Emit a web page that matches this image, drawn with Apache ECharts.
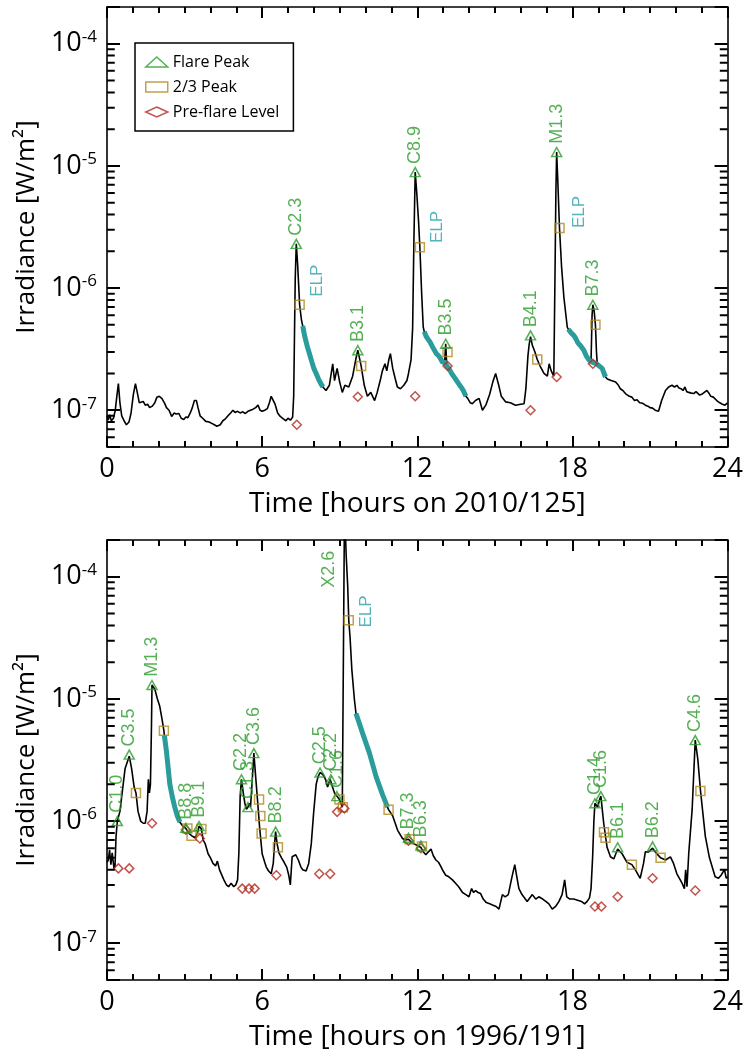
<!DOCTYPE html>
<html><head><meta charset="utf-8">
<script src="https://cdn.jsdelivr.net/npm/echarts@6/dist/echarts.min.js"></script>
<style>html,body{margin:0;padding:0;background:#fff}#c{width:746px;height:1061px}</style>
</head><body><div id="c"></div>
<script>
// ---------------- DATA ----------------
const xTicks = [0, 6, 12, 18, 24];
const yMinorTicks = [6e-8,7e-8,8e-8,9e-8, 2e-7,3e-7,4e-7,5e-7,6e-7,7e-7,8e-7,9e-7,
  2e-6,3e-6,4e-6,5e-6,6e-6,7e-6,8e-6,9e-6, 2e-5,3e-5,4e-5,5e-5,6e-5,7e-5,8e-5,9e-5];

// Top panel: 2010/125
const topCurve = [
 [0.00,9.0e-8],[0.05,8.3e-8],[0.10,9.2e-8],[0.17,8.2e-8],[0.25,8.6e-8],[0.32,1.0e-7],[0.38,1.3e-7],[0.44,1.65e-7],
 [0.50,1.15e-7],[0.57,9.0e-8],[0.66,8.2e-8],[0.75,7.6e-8],[0.85,8.0e-8],[0.93,9.5e-8],[1.02,1.35e-7],[1.10,1.65e-7],
 [1.17,1.4e-7],[1.25,1.15e-7],[1.32,1.12e-7],[1.40,1.18e-7],[1.48,1.1e-7],[1.57,1.12e-7],[1.65,1.05e-7],[1.75,1.08e-7],
 [1.85,1.15e-7],[1.93,1.28e-7],[2.02,1.3e-7],[2.12,1.25e-7],[2.22,1.15e-7],[2.30,1.05e-7],[2.40,1.0e-7],[2.50,8.9e-8],
 [2.60,9.5e-8],[2.68,9.3e-8],[2.78,9.4e-8],[2.87,8.6e-8],[2.97,8.4e-8],[3.05,8.8e-8],[3.13,8.7e-8],[3.22,9.5e-8],
 [3.30,1.05e-7],[3.38,1.2e-7],[3.46,1.2e-7],[3.52,1.05e-7],[3.60,9.0e-8],[3.70,8.6e-8],[3.82,8.1e-8],[3.95,8.0e-8],
 [4.05,7.8e-8],[4.15,7.6e-8],[4.25,7.4e-8],[4.30,7.2e-8],[4.38,7.6e-8],[4.48,8.2e-8],[4.58,8.5e-8],[4.68,9.0e-8],
 [4.78,9.5e-8],[4.87,1.0e-7],[4.95,9.6e-8],[5.05,9.8e-8],[5.15,9.5e-8],[5.25,9.7e-8],[5.35,9.4e-8],[5.45,9.8e-8],
 [5.55,1.0e-7],[5.65,1.02e-7],[5.75,1.05e-7],[5.84,1.1e-7],[5.92,1.0e-7],[6.00,9.8e-8],[6.10,1.0e-7],[6.20,1.03e-7],
 [6.28,1.15e-7],[6.35,1.3e-7],[6.42,1.3e-7],[6.50,1.12e-7],[6.60,9.5e-8],[6.70,8.9e-8],[6.82,8.5e-8],[6.92,8.2e-8],
 [7.00,8.6e-8],[7.10,8.3e-8],[7.18,8.8e-8],[7.22,1.3e-7],[7.25,4.0e-7],[7.28,1.2e-6],[7.32,2.3e-6],[7.37,1.6e-6],
 [7.45,7.3e-7],[7.52,5.5e-7],
 [7.57,4.9e-7],[7.65,4.0e-7],[7.75,3.3e-7],[7.83,2.9e-7],[7.92,2.5e-7],[8.00,2.2e-7],[8.09,2.0e-7],[8.18,1.8e-7],
 [8.27,1.65e-7],[8.35,1.55e-7],[8.47,1.45e-7],[8.60,1.6e-7],[8.73,2.4e-7],[8.80,1.75e-7],[8.90,2.2e-7],[9.00,1.7e-7],
 [9.10,1.4e-7],[9.20,1.6e-7],[9.35,1.55e-7],[9.50,1.9e-7],[9.62,2.6e-7],[9.70,3.1e-7],[9.83,2.3e-7],[9.95,1.6e-7],
 [10.07,1.3e-7],[10.20,1.4e-7],[10.35,1.2e-7],[10.45,1.4e-7],[10.58,1.8e-7],[10.65,2.1e-7],[10.75,2.4e-7],[10.82,2.1e-7],
 [10.90,2.6e-7],[10.96,2.9e-7],[11.05,2.2e-7],[11.15,1.8e-7],[11.23,1.55e-7],[11.35,1.5e-7],[11.48,1.6e-7],[11.60,1.75e-7],
 [11.66,2.0e-7],[11.76,2.6e-7],[11.82,4.7e-7],[11.87,2.5e-6],[11.92,8.9e-6],[11.98,6.0e-6],[12.05,3.5e-6],[12.10,2.16e-6],
 [12.17,9.0e-7],[12.23,4.8e-7],[12.27,4.4e-7],[12.35,4.0e-7],[12.42,3.8e-7],[12.50,3.6e-7],[12.59,3.3e-7],[12.66,3.2e-7],
 [12.74,2.9e-7],[12.82,2.8e-7],[12.90,2.65e-7],[12.98,2.45e-7],[13.06,2.5e-7],[13.10,3.5e-7],[13.14,2.3e-7],[13.22,2.2e-7],
 [13.30,2.05e-7],[13.36,1.95e-7],[13.44,1.85e-7],[13.52,1.75e-7],[13.60,1.65e-7],[13.69,1.55e-7],[13.78,1.45e-7],[13.88,1.3e-7],
 [13.95,1.25e-7],[14.05,1.15e-7],[14.13,1.13e-7],[14.25,1.2e-7],[14.39,1.25e-7],[14.52,1.0e-7],[14.65,1.1e-7],[14.80,1.35e-7],
 [14.92,1.7e-7],[15.03,2.0e-7],[15.15,1.6e-7],[15.25,1.3e-7],[15.42,1.17e-7],[15.60,1.15e-7],[15.80,1.1e-7],[16.00,1.12e-7],
 [16.13,1.13e-7],[16.20,1.5e-7],[16.28,2.8e-7],[16.33,3.5e-7],[16.38,4.0e-7],[16.45,3.4e-7],[16.55,3.0e-7],[16.64,2.6e-7],
 [16.75,2.3e-7],[16.90,2.0e-7],[17.03,1.9e-7],[17.10,2.4e-7],[17.18,2.1e-7],[17.28,1.9e-7],[17.33,1.5e-6],[17.36,6.0e-6],
 [17.39,1.3e-5],[17.43,8.0e-6],[17.50,3.1e-6],[17.58,1.5e-6],[17.67,8.4e-7],[17.80,4.8e-7],[17.84,4.6e-7],[17.95,4.3e-7],
 [18.05,4.1e-7],[18.12,3.9e-7],[18.20,3.6e-7],[18.30,3.4e-7],[18.44,3.1e-7],[18.53,2.8e-7],[18.63,2.6e-7],[18.72,2.5e-7],
 [18.76,6.0e-7],[18.79,7.3e-7],[18.84,6.5e-7],[18.89,5.0e-7],[18.93,3.0e-7],[18.96,2.4e-7],[19.00,2.35e-7],[19.15,2.2e-7],
 [19.28,1.87e-7],[19.35,1.8e-7],[19.50,1.75e-7],[19.67,1.7e-7],[19.78,1.6e-7],[19.85,1.5e-7],[19.95,1.45e-7],[20.05,1.37e-7],
 [20.20,1.3e-7],[20.30,1.28e-7],[20.40,1.2e-7],[20.50,1.22e-7],[20.60,1.15e-7],[20.72,1.14e-7],[20.82,1.1e-7],[20.92,1.08e-7],
 [21.00,1.05e-7],[21.10,1.04e-7],[21.20,1.0e-7],[21.33,9.8e-8],[21.45,1.2e-7],[21.60,1.45e-7],[21.72,1.55e-7],[21.85,1.6e-7],
 [21.95,1.55e-7],[22.04,1.6e-7],[22.12,1.52e-7],[22.20,1.5e-7],[22.28,1.45e-7],[22.35,1.55e-7],[22.42,1.42e-7],[22.50,1.4e-7],
 [22.60,1.38e-7],[22.69,1.37e-7],[22.78,1.42e-7],[22.85,1.4e-7],[22.92,1.33e-7],[23.00,1.35e-7],[23.10,1.4e-7],[23.20,1.45e-7],
 [23.28,1.38e-7],[23.35,1.3e-7],[23.45,1.28e-7],[23.52,1.25e-7],[23.62,1.18e-7],[23.70,1.15e-7],[23.80,1.12e-7],[23.90,1.1e-7],
 [24.00,1.15e-7]
];
const topElp1 = [[7.57,4.9e-7],[7.65,4.0e-7],[7.75,3.3e-7],[7.83,2.9e-7],[7.92,2.5e-7],[8.00,2.2e-7],[8.09,2.0e-7],[8.18,1.8e-7],[8.27,1.65e-7],[8.35,1.55e-7]];
const topElp2 = [[12.27,4.4e-7],[12.35,4.0e-7],[12.42,3.8e-7],[12.50,3.6e-7],[12.59,3.3e-7],[12.66,3.2e-7],[12.74,2.9e-7],[12.82,2.8e-7],[12.90,2.65e-7],[12.98,2.45e-7],[13.06,2.5e-7],[13.14,2.3e-7],[13.22,2.2e-7],[13.30,2.05e-7],[13.36,1.95e-7],[13.44,1.85e-7],[13.52,1.75e-7],[13.60,1.65e-7],[13.69,1.55e-7],[13.78,1.45e-7],[13.88,1.3e-7]];
const topElp3 = [[17.84,4.6e-7],[17.95,4.3e-7],[18.05,4.1e-7],[18.12,3.9e-7],[18.20,3.6e-7],[18.30,3.4e-7],[18.44,3.1e-7],[18.53,2.8e-7],[18.63,2.6e-7],[18.72,2.5e-7],[18.82,2.45e-7],[18.93,2.4e-7],[19.00,2.35e-7],[19.15,2.2e-7],[19.28,1.87e-7]];
const topPeaks = [[7.32,2.3e-6],[9.70,3.1e-7],[11.92,8.9e-6],[13.10,3.5e-7],[16.38,4.1e-7],[17.39,1.3e-5],[18.79,7.3e-7]];
const topPeakNames = ['C2.3','B3.1','C8.9','B3.5','B4.1','M1.3','B7.3'];
const topTwoThirds = [[7.45,7.3e-7],[9.83,2.3e-7],[12.10,2.16e-6],[13.17,3.0e-7],[16.64,2.6e-7],[17.50,3.1e-6],[18.89,5.0e-7]];
const topPreflare = [[7.34,7.6e-8],[9.70,1.29e-7],[11.92,1.3e-7],[13.17,2.3e-7],[16.38,1.0e-7],[17.39,1.87e-7],[18.79,2.4e-7]];
const topElpNotes = [[8.14,1.15e-6],[12.78,3.16e-6],[18.25,4.2e-6]];

// Bottom panel: 1996/191
const botCurve = [
 [0.00,4.6e-7],[0.05,4.8e-7],[0.10,5.8e-7],[0.15,4.4e-7],[0.20,5.5e-7],[0.27,4.1e-7],[0.31,4.3e-7],[0.35,7.5e-7],
 [0.40,1.0e-6],[0.50,1.2e-6],[0.60,1.8e-6],[0.70,2.7e-6],[0.86,3.4e-6],[0.95,2.7e-6],[1.05,1.9e-6],[1.12,1.7e-6],
 [1.20,1.2e-6],[1.30,1.0e-6],[1.40,9.6e-7],[1.48,9.6e-7],[1.55,1.2e-6],[1.60,2.2e-6],[1.64,1.7e-6],[1.68,2.0e-6],
 [1.72,6.0e-6],[1.74,1.3e-5],[1.85,1.2e-5],[1.95,1.0e-5],[2.04,8.7e-6],[2.12,7.0e-6],[2.20,5.5e-6],[2.22,5.0e-6],
 [2.30,3.7e-6],[2.43,2.0e-6],[2.52,1.6e-6],[2.62,1.3e-6],[2.72,1.1e-6],[2.82,9.8e-7],[2.95,9.0e-7],[3.05,8.7e-7],
 [3.15,8.0e-7],[3.27,7.6e-7],[3.40,7.3e-7],[3.50,8.0e-7],[3.56,9.1e-7],[3.65,8.6e-7],[3.72,7.0e-7],[3.80,6.5e-7],
 [3.91,5.4e-7],[4.00,5.0e-7],[4.10,4.5e-7],[4.20,4.3e-7],[4.27,4.7e-7],[4.35,4.0e-7],[4.42,3.7e-7],[4.52,3.3e-7],
 [4.62,3.0e-7],[4.70,2.9e-7],[4.80,3.1e-7],[4.90,2.9e-7],[4.98,3.0e-7],[5.05,3.3e-7],[5.10,5.5e-7],[5.15,1.6e-6],
 [5.20,2.2e-6],[5.27,1.7e-6],[5.33,1.4e-6],[5.39,1.25e-6],[5.45,1.3e-6],[5.50,1.4e-6],[5.55,1.3e-6],[5.62,2.2e-6],
 [5.68,3.6e-6],[5.75,2.3e-6],[5.82,1.5e-6],[5.90,9.0e-7],[6.00,5.4e-7],[6.10,4.6e-7],[6.16,4.2e-7],[6.25,3.9e-7],
 [6.35,3.7e-7],[6.43,4.5e-7],[6.48,6.5e-7],[6.52,8.2e-7],[6.58,6.5e-7],[6.65,5.5e-7],[6.75,5.0e-7],[6.85,4.6e-7],
 [6.95,4.2e-7],[7.03,3.6e-7],[7.09,3.0e-7],[7.16,5.1e-7],[7.30,5.3e-7],[7.40,4.8e-7],[7.50,4.2e-7],[7.57,4.0e-7],
 [7.70,3.9e-7],[7.80,4.5e-7],[7.90,6.5e-7],[7.99,1.16e-6],[8.09,2.0e-6],[8.16,2.3e-6],[8.24,2.5e-6],[8.35,2.4e-6],
 [8.45,2.2e-6],[8.53,1.9e-6],[8.63,2.2e-6],[8.72,1.9e-6],[8.80,1.7e-6],[8.89,1.6e-6],[8.99,1.5e-6],[9.10,1.3e-6],
 [9.14,1.3e-6],[9.18,2.6e-4],[9.22,2.3e-4],[9.25,1.5e-4],[9.31,8.3e-5],[9.35,4.4e-5],[9.40,3.2e-5],[9.47,1.73e-5],
 [9.57,9.8e-6],[9.63,7.6e-6],[9.89,5.2e-6],[10.15,3.6e-6],[10.41,2.3e-6],[10.66,1.64e-6],[10.85,1.3e-6],[10.89,1.24e-6],
 [11.05,1.1e-6],[11.24,8.4e-7],[11.43,7.2e-7],[11.55,7.0e-7],[11.66,7.1e-7],[11.80,6.6e-7],[11.95,6.4e-7],[12.05,6.2e-7],
 [12.14,6.1e-7],[12.23,5.6e-7],[12.33,5.3e-7],[12.43,5.6e-7],[12.53,5.9e-7],[12.62,5.2e-7],[12.72,4.8e-7],[12.82,4.6e-7],
 [12.90,4.3e-7],[13.00,3.9e-7],[13.10,3.6e-7],[13.22,3.5e-7],[13.36,3.3e-7],[13.48,3.1e-7],[13.60,2.9e-7],[13.75,2.6e-7],
 [13.88,2.5e-7],[14.00,2.4e-7],[14.10,2.8e-7],[14.18,2.6e-7],[14.26,2.7e-7],[14.35,2.6e-7],[14.45,2.55e-7],[14.55,2.3e-7],
 [14.67,2.15e-7],[14.80,2.1e-7],[14.93,2.05e-7],[15.05,2.0e-7],[15.16,1.9e-7],[15.29,2.5e-7],[15.40,2.4e-7],[15.52,2.5e-7],
 [15.65,3.4e-7],[15.77,4.4e-7],[15.85,3.5e-7],[15.93,2.8e-7],[16.05,2.5e-7],[16.15,2.35e-7],[16.25,2.2e-7],[16.35,2.35e-7],
 [16.45,2.5e-7],[16.58,2.3e-7],[16.70,2.4e-7],[16.85,2.3e-7],[16.97,2.2e-7],[17.09,2.1e-7],[17.22,1.9e-7],[17.35,2.0e-7],
 [17.48,2.2e-7],[17.60,2.5e-7],[17.70,3.3e-7],[17.78,2.4e-7],[17.90,2.3e-7],[18.05,2.3e-7],[18.20,2.25e-7],[18.35,2.2e-7],
 [18.47,2.1e-7],[18.57,2.2e-7],[18.66,2.35e-7],[18.72,2.8e-7],[18.78,5.0e-7],[18.83,1.0e-6],[18.87,1.4e-6],[18.98,1.3e-6],
 [19.05,1.5e-6],[19.10,1.6e-6],[19.21,9.6e-7],[19.34,6.1e-7],[19.47,5.1e-7],[19.60,4.9e-7],[19.75,5.9e-7],[19.92,5.4e-7],
 [20.11,4.6e-7],[20.30,4.4e-7],[20.43,4.0e-7],[20.62,3.4e-7],[20.75,4.5e-7],[20.82,5.6e-7],[20.95,5.6e-7],[21.10,6.0e-7],
 [21.20,5.6e-7],[21.41,5.0e-7],[21.60,4.8e-7],[21.79,5.1e-7],[21.91,4.5e-7],[22.04,3.7e-7],[22.24,3.1e-7],[22.33,2.8e-7],
 [22.38,4.0e-7],[22.43,2.9e-7],[22.50,5.5e-7],[22.63,1.24e-6],[22.75,4.6e-6],[22.85,3.2e-6],[22.95,1.8e-6],[23.14,7.5e-7],
 [23.30,5.0e-7],[23.52,3.5e-7],[23.65,3.4e-7],[23.75,3.6e-7],[23.88,4.0e-7],[23.95,3.4e-7],[24.00,3.5e-7]
];
const botElp1 = [[2.22,5.0e-6],[2.30,3.7e-6],[2.43,2.0e-6],[2.52,1.6e-6],[2.62,1.3e-6],[2.72,1.1e-6],[2.82,9.8e-7]];
const botElp2 = [[9.63,7.6e-6],[9.89,5.2e-6],[10.15,3.6e-6],[10.41,2.3e-6],[10.66,1.64e-6],[10.85,1.3e-6]];
const botPeaks = [[0.40,1.0e-6],[0.86,3.5e-6],[1.74,1.3e-5],[3.05,8.8e-7],[3.56,9.1e-7],[5.20,2.2e-6],[5.45,1.3e-6],[5.68,3.6e-6],
 [6.52,8.2e-7],[8.24,2.5e-6],[8.66,2.2e-6],[8.89,1.6e-6],[11.66,7.3e-7],[12.14,6.3e-7],[18.87,1.4e-6],[19.10,1.6e-6],
 [19.75,6.1e-7],[21.10,6.2e-7],[22.75,4.6e-6]];
const botPeakNames = ['C1.0','C3.5','M1.3','B8.8','B9.1','C2.2','C1.3','C3.6','B8.2','C2.5','C2.2','C1.6','B7.3','B6.3','C1.4','C1.6','B6.1','B6.2','C4.6'];
const botTwoThirds = [[1.12,1.7e-6],[2.20,5.5e-6],[3.11,8.7e-7],[3.27,7.6e-7],[3.65,8.6e-7],[5.88,1.5e-6],[5.93,1.1e-6],[5.98,7.9e-7],
 [6.61,6.1e-7],[8.99,1.5e-6],[9.12,1.3e-6],[9.35,4.4e-5],[10.89,1.24e-6],[11.70,7.1e-7],[12.18,6.2e-7],[19.22,8.1e-7],
 [19.28,7.3e-7],[20.30,4.4e-7],[21.41,5.0e-7],[22.95,1.76e-6]];
const botPreflare = [[0.44,4.1e-7],[0.86,4.1e-7],[1.74,9.6e-7],[3.05,8.5e-7],[3.59,7.2e-7],[5.23,2.8e-7],[5.49,2.8e-7],[5.71,2.8e-7],
 [6.55,3.6e-7],[8.21,3.7e-7],[8.63,3.7e-7],[8.90,1.19e-6],[9.18,1.27e-6],[11.66,6.9e-7],[12.14,6.0e-7],[18.87,2.0e-7],
 [19.12,2.0e-7],[19.75,2.4e-7],[21.10,3.4e-7],[22.75,2.7e-7]];
const botOffscaleLabel = [[8.6,1.15e-4]];
const botOffscaleName = ['X2.6'];
const botElpNotes = [[10.02,5.2e-5]];

const topXName = 'Time [hours on 2010/125]';
const botXName = 'Time [hours on 1996/191]';
const yName = 'Irradiance [W/m\u00B2]';

// ---------------- STYLE ----------------
const FONT = 'Open Sans';
const LFONT = 'Liberation Sans';
const GREEN = '#2b9b2b', GOLD = '#b08a22', RED = '#b3281e', TEAL = '#2a9c9c', TEALTXT = '#2aa0aa';
const TICKC = '#000';
const MINOR_LEN_H = 0.3; // minor y-tick length expressed in hours (about 7-8 px)
const TICKW = 2;

function xAx(grid, pos, name) {
  return {
    type: 'value', gridIndex: grid, position: pos, min: xTicks[0], max: xTicks[xTicks.length - 1], interval: xTicks[1] - xTicks[0],
    axisLine: { show: true, onZero: false, lineStyle: { color: '#000', width: 1.6 } },
    axisTick: { show: true, inside: true, length: 11, lineStyle: { color: TICKC, width: TICKW } },
    minorTick: { show: true, splitNumber: 6, length: 6, lineStyle: { color: TICKC, width: TICKW } },
    splitLine: { show: false }, minorSplitLine: { show: false },
    axisLabel: { show: pos === 'bottom', fontSize: 27, fontFamily: FONT, color: '#000', margin: 9 },
    name: name || '', nameLocation: 'middle', nameGap: 43,
    nameTextStyle: { fontSize: 28, fontFamily: FONT, color: '#000' }
  };
}
function yFmt(v) {
  const l = Math.log10(v);
  const e = Math.round(l);
  if (Math.abs(l - e) > 1e-6) return '';
  return '{b|10}{s|' + e + '}';
}
function yAx(grid, pos) {
  return {
    type: 'log', logBase: 10, gridIndex: grid, position: pos, min: 5e-8, max: 2e-4,
    axisLine: { show: true, onZero: false, lineStyle: { color: '#000', width: 1.6 } },
    axisTick: { show: true, inside: true, length: 13, lineStyle: { color: TICKC, width: TICKW } },
    minorTick: { show: false }, splitLine: { show: false },
    axisLabel: {
      show: pos === 'left', formatter: yFmt, margin: 10, color: '#000',
      rich: {
        b: { fontSize: 27, fontFamily: FONT, color: '#000', lineHeight: 30 },
        s: { fontSize: 17, fontFamily: FONT, color: '#000', lineHeight: 18, verticalAlign: 'top' }
      }
    },
    name: pos === 'left' ? yName : '', nameLocation: 'middle', nameGap: 64, nameRotate: 90,
    nameTextStyle: { fontSize: 26, fontFamily: FONT, color: '#000' }
  };
}

// minor log ticks on both frame sides, drawn as short broken line segments
function minorTickSeries(xi, yi) {
  const x0 = xTicks[0], x1 = xTicks[xTicks.length - 1];
  const left = [], right = [];
  yMinorTicks.forEach(v => {
    left.push([x0, v], [x0 + MINOR_LEN_H, v], [x0 + MINOR_LEN_H, '-']);
    right.push([x1 - MINOR_LEN_H, v], [x1, v], [x1, '-']);
  });
  const base = { type: 'line', xAxisIndex: xi, yAxisIndex: yi, silent: true, showSymbol: false, symbol: 'none',
    connectNulls: false, z: 10, lineStyle: { color: TICKC, width: TICKW } };
  return [Object.assign({}, base, { data: left }), Object.assign({}, base, { data: right })];
}

function panel(xi, yi, curve, elps, peaks, names, twoThirds, pre, elpNotes) {
  const s = [];
  s.push({ type: 'line', xAxisIndex: xi, yAxisIndex: yi, data: curve, showSymbol: false, symbol: 'none',
    lineStyle: { color: '#000', width: 1.6 }, z: 2, silent: true });
  elps.forEach(d => s.push({ type: 'line', xAxisIndex: xi, yAxisIndex: yi, data: d, showSymbol: false, symbol: 'none',
    lineStyle: { color: TEAL, width: 5 }, z: 3, silent: true }));
  s.push({ name: 'Flare Peak', type: 'scatter', xAxisIndex: xi, yAxisIndex: yi, symbol: 'triangle', symbolSize: [10, 9],
    data: peaks.map((p, i) => ({ value: p, name: names[i] })),
    itemStyle: { color: 'rgba(0,0,0,0)', borderColor: GREEN, borderWidth: 1.5 }, z: 6,
    label: { show: true, formatter: '{b}', position: 'top', distance: 3, rotate: 90, align: 'left', verticalAlign: 'middle',
      color: GREEN, fontSize: 18, fontFamily: LFONT } });
  s.push({ name: '2/3 Peak', type: 'scatter', xAxisIndex: xi, yAxisIndex: yi, symbol: 'rect', symbolSize: 9, data: twoThirds,
    itemStyle: { color: 'rgba(0,0,0,0)', borderColor: GOLD, borderWidth: 1.5 }, z: 5 });
  s.push({ name: 'Pre-flare Level', type: 'scatter', xAxisIndex: xi, yAxisIndex: yi, symbol: 'diamond', symbolSize: 9, data: pre,
    itemStyle: { color: 'rgba(0,0,0,0)', borderColor: RED, borderWidth: 1.5 }, z: 5 });
  s.push({ name: 'elpnote', type: 'scatter', xAxisIndex: xi, yAxisIndex: yi, symbolSize: 0, data: elpNotes.map(p => ({ value: p, name: 'ELP' })),
    label: { show: true, formatter: '{b}', position: 'inside', rotate: 90, align: 'center', verticalAlign: 'middle',
      color: TEALTXT, fontSize: 17, fontFamily: LFONT }, z: 6, silent: true });
  return s.concat(minorTickSeries(xi, yi));
}

const series = [].concat(
  panel(0, 0, topCurve, [topElp1, topElp2, topElp3], topPeaks, topPeakNames, topTwoThirds, topPreflare, topElpNotes),
  panel(2, 2, botCurve, [botElp1, botElp2], botPeaks, botPeakNames, botTwoThirds, botPreflare, botElpNotes),
  [{ name: 'offscale', type: 'scatter', xAxisIndex: 2, yAxisIndex: 2, symbolSize: 0,
     data: botOffscaleLabel.map((p, i) => ({ value: p, name: botOffscaleName[i] })),
     label: { show: true, formatter: '{b}', position: 'inside', rotate: 90, align: 'center', verticalAlign: 'middle',
       color: GREEN, fontSize: 18, fontFamily: LFONT }, z: 6, silent: true }]
);

const option = {
  animation: false,
  backgroundColor: '#fff',
  grid: [
    { left: 107, top: 7, width: 622, height: 440 },
    { left: 107, top: 540, width: 622, height: 440 }
  ],
  xAxis: [xAx(0, 'bottom', topXName), xAx(0, 'top'), xAx(1, 'bottom', botXName), xAx(1, 'top')],
  yAxis: [yAx(0, 'left'), yAx(0, 'right'), yAx(1, 'left'), yAx(1, 'right')],
  legend: {
    data: [
      { name: 'Flare Peak', icon: 'triangle', itemStyle: { color: 'rgba(0,0,0,0)', borderColor: GREEN, borderWidth: 1.5 } },
      { name: '2/3 Peak', icon: 'rect', itemStyle: { color: 'rgba(0,0,0,0)', borderColor: GOLD, borderWidth: 1.5 } },
      { name: 'Pre-flare Level', icon: 'diamond', itemStyle: { color: 'rgba(0,0,0,0)', borderColor: RED, borderWidth: 1.5 } }
    ],
    orient: 'vertical', left: 135, top: 43, padding: [11, 14, 11, 10], itemGap: 9, itemWidth: 22, itemHeight: 10,
    borderColor: '#000', borderWidth: 1.5, backgroundColor: '#fff', selectedMode: false,
    textStyle: { fontSize: 16, fontFamily: FONT, color: '#000' }
  },
  series: series
};

const chart = echarts.init(document.getElementById('c'), null, { renderer: 'canvas' });
chart.setOption(option);
</script></body></html>
